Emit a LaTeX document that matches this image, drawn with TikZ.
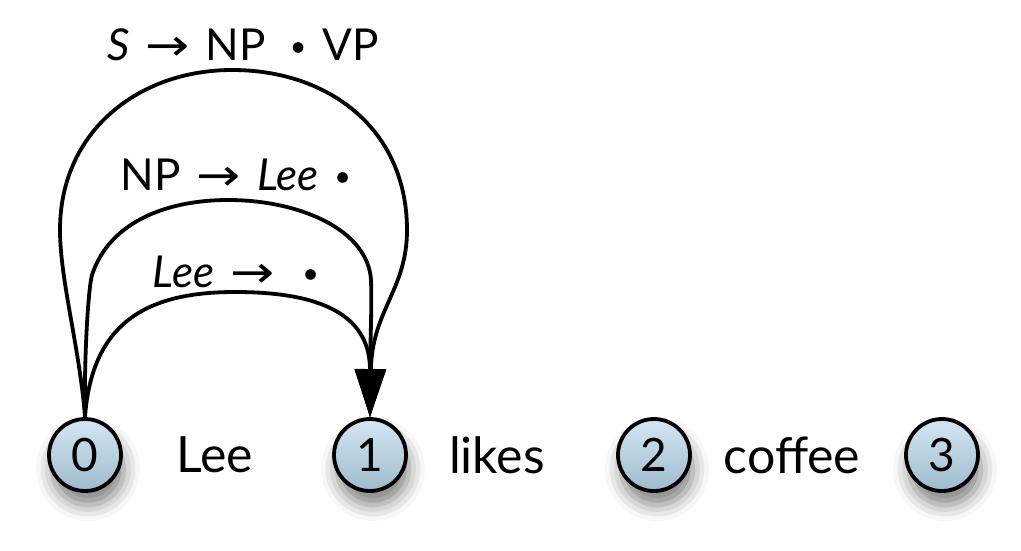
\documentclass[tikz,border=0pt]{standalone}
\usepackage{fontspec}
\setmainfont{Lato}
\newfontfamily\symfont{DejaVu Sans}
\usetikzlibrary{arrows.meta,shadows.blur}
\newcommand{\arr}{{\symfont\scalebox{1.2}[1]{→}}}
\newcommand{\dotmark}{\raisebox{0.1em}{\scalebox{0.65}{•}}}
\newcommand{\gap}{\hspace{16pt}}
\definecolor{nodetop}{HTML}{D4E6F2}
\definecolor{nodebot}{HTML}{9FBBCE}
\begin{document}
\begin{tikzpicture}[x=1pt,y=1pt,
  state/.style={circle,draw=black,line width=3.8pt,minimum size=72pt,inner sep=0pt,
    top color=nodetop,bottom color=nodebot,
    blur shadow={shadow xshift=3pt,shadow yshift=-14pt,shadow blur radius=16pt,shadow opacity=50},
    font=\fontsize{46}{46}\selectfont},
  word/.style={font=\fontsize{50}{50}\selectfont,inner sep=0pt},
  lab/.style={font=\fontsize{44}{44}\selectfont,inner sep=0pt},
  edge/.style={line width=3.8pt,-{Triangle[length=48pt,width=30pt]}}]
\useasboundingbox (0,0) rectangle (1021,550);
\node[state] (n0) at (85,95) {0};
\node[state] (n1) at (370,95) {1};
\node[state] (n2) at (654,95) {2};
\node[state] (n3) at (942,95) {3};
\node[word] (w1) at (215,95) {Lee};
\node[word] (w2) at (497,95) {likes};
\node[word] (w3) at (792,95) {coffee};
% inner
\draw[edge] (n0.north) .. controls (92,230) and (150,258) .. (235,258)
  .. controls (330,258) and (370,230) .. (n1.north);
% middle
\draw[edge] (n0.north) .. controls (84,190) and (88,260) .. (92,275)
  .. controls (110,330) and (170,350) .. (228,350)
  .. controls (300,350) and (368,320) .. (371,270)
  .. controls (372,240) and (370,200) .. (n1.north);
% outer
\draw[edge] (n0.north) .. controls (80,200) and (60,270) .. (60,320)
  .. controls (60,420) and (140,480) .. (232,480)
  .. controls (330,480) and (407,420) .. (407,320)
  .. controls (407,260) and (372,240) .. (n1.north);
\node[lab] (l1) at (243,505) {\textit{S}\gap\arr\gap NP\gap\hspace{8pt}\dotmark\gap VP};
\node[lab] (l2) at (236,375) {NP\gap\arr\gap\textit{Lee}\gap\dotmark};
\node[lab] (l3) at (236,278) {\textit{Lee}\gap\arr\gap\hspace{12pt}\dotmark};
\end{tikzpicture}
\end{document}
